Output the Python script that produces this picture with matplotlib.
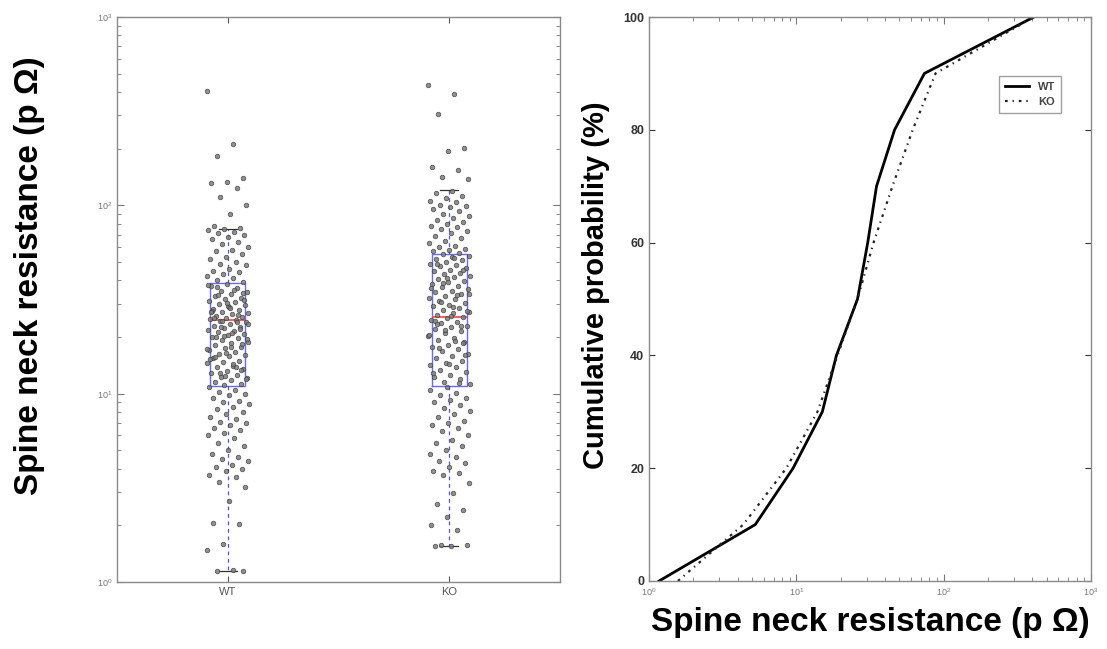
import numpy as np
import matplotlib.pyplot as plt

# resistance values (p Ohm)
wt_vals = [405, 212, 183, 140, 133, 131, 124, 111, 100, 90, 78, 76, 75, 74, 72, 71,
           70, 68, 66, 64, 62, 60, 58, 57, 55, 53, 52, 50, 49, 48, 46, 45, 44, 43,
           42, 41, 40, 39,
           38, 37.2, 36.5, 35.1, 34.6, 33.8, 33.1, 32.4, 31.9, 31.0, 30.6, 29.8, 29.5,
           28.9, 28.2, 27.9, 27.3, 26.8, 26.5, 26.0, 25.6, 25.1, 24.9, 24.6, 24.2, 23.9,
           23.5, 23.0, 22.7, 22.3, 21.8, 21.5, 21.2, 20.7, 20.4, 20.1, 19.7, 19.3, 18.9,
           18.6, 18.1, 17.8, 17.5, 17.0, 16.7, 16.3, 16.0, 15.8, 15.4, 15.0, 14.7, 14.5,
           14.1, 13.8, 13.5, 13.2, 12.9, 12.6, 12.3, 12.1, 11.8, 11.6, 11.3, 11.1,
           37.8, 35.6, 33.4, 31.5, 29.1, 27.6, 26.3, 24.4, 23.3, 21.0, 19.9, 18.3, 16.5,
           15.2, 13.9, 12.8, 11.9, 28.6, 25.3, 22.1, 20.2, 17.3, 14.3,
           36.8, 34.2, 30.2, 27.1, 24.0, 22.5, 19.5, 17.6, 15.6, 13.3, 12.4,
           10.8, 10.5, 10.2, 10.0, 9.8, 9.5, 9.2, 9.0, 8.8, 8.5, 8.3, 8.0, 7.8, 7.5,
           7.3, 7.1, 7.0, 6.8, 6.6, 6.4, 6.2, 6.0, 5.8, 5.5, 5.3, 5.0, 4.8, 4.6, 4.5,
           4.4, 4.2, 4.1, 4.0, 3.9, 3.7, 3.6, 3.4, 3.2, 2.7, 2.07, 2.03, 1.6, 1.48,
           1.16, 1.15, 1.14]

ko_vals = [436, 390, 305, 202, 194, 160, 154, 141, 138, 119, 117, 112, 109, 106, 104,
           101, 99, 98, 96, 93, 90, 88, 86, 84, 82, 80, 78, 77, 75, 73, 71, 69, 67,
           65, 63, 61, 60, 59, 58, 57, 56, 55.5,
           54, 53.1, 52.2, 51.0, 50.3, 49.1, 48.2, 47.5, 46.3, 45.6, 44.8, 43.9, 43.0,
           42.2, 41.5, 40.6, 39.8, 39.0, 38.1, 37.4, 36.7, 35.9, 35.2, 34.5, 33.8, 33.0,
           32.3, 31.7, 31.0, 30.4, 29.7, 29.1, 28.5, 27.9, 27.2, 26.7, 26.1, 25.6, 25.2,
           24.7, 24.1, 23.6, 23.0, 22.5, 22.0, 21.4, 20.9, 20.3, 19.8, 19.3, 18.8, 18.2,
           17.7, 17.2, 16.8, 16.3, 15.9, 15.4, 15.0, 14.6, 14.2, 13.8, 13.4, 13.0, 12.6,
           12.3, 11.9, 11.6, 11.2,
           52.7, 48.8, 45.1, 41.0, 36.2, 33.3, 30.7, 27.5, 25.9, 24.4, 22.8, 21.7, 20.6,
           19.0, 17.5, 16.0, 14.4, 12.9, 11.4, 38.5, 34.0, 28.8, 23.3, 18.5,
           10.9, 10.4, 10.1, 9.8, 9.5, 9.3, 9.0, 8.7, 8.4, 8.1, 7.8, 7.5, 7.2, 7.0,
           6.8, 6.6, 6.3, 6.0, 5.7, 5.5, 5.3, 5.0, 4.8, 4.6, 4.4, 4.3, 4.1, 3.9, 3.8,
           3.7, 3.36, 2.97, 2.6, 2.41, 2.21, 2.0, 1.9, 1.58, 1.57, 1.56, 1.55]

groups = ['WT', 'KO']
# box statistics
q1 = [11.0, 11.0]
med = [24.5, 25.5]
q3 = [38.7, 55.0]
whis_lo = [1.14, 1.55]
whis_hi = [75.0, 120.0]

# cumulative curves (deciles)
cum_pct = [0, 10, 20, 30, 40, 50, 60, 70, 80, 90, 100]
wt_cum = [1.17, 5.26, 9.5, 15.0, 18.7, 26.0, 30.5, 35.0, 46.4, 74.0, 409]
ko_cum = [1.57, 4.36, 8.55, 13.9, 19.0, 26.0, 33.4, 44.9, 61.6, 88.0, 409]

plt.rcParams['font.family'] = ['Liberation Sans', 'DejaVu Sans']

fig = plt.figure(figsize=(11.07, 6.49), dpi=100)
ax1 = fig.add_axes([0.1057, 0.1032, 0.4002, 0.8706])
ax2 = fig.add_axes([0.5863, 0.1048, 0.3993, 0.8690])

frame = '#8a8a8a'

# ---- left: box plot with jittered points
for i, vals in enumerate([wt_vals, ko_vals]):
    n = len(vals)
    offs = ((np.arange(n) * 0.6180339) % 1.0 - 0.5) * 0.19
    ax1.scatter(i + 1 + offs, vals, s=11, facecolor='#7c7c7c', edgecolor='#3a3a3a',
                linewidths=0.5, alpha=0.85, zorder=3)

stats = [dict(med=med[i], q1=q1[i], q3=q3[i], whislo=whis_lo[i], whishi=whis_hi[i],
              label=groups[i]) for i in range(2)]
ax1.bxp(stats, positions=[1, 2], widths=0.16, showfliers=False,
        boxprops=dict(color='#6a6aff', lw=1.0),
        medianprops=dict(color='#ff4040', lw=1.2),
        whiskerprops=dict(color='#5050ff', lw=0.9, ls=(0, (3, 3))),
        capprops=dict(color='#333333', lw=0.9), capwidths=0.08)

ax1.set_yscale('log')
ax1.set_ylim(1, 1000)
ax1.set_xlim(0.5, 2.5)
ax1.set_xticks([1, 2])
ax1.set_xticklabels(groups)
ax1.tick_params(axis='x', labelsize=8, colors='#555555', direction='in', top=True, length=4)
ax1.tick_params(axis='y', which='both', labelsize=6.5, colors='#777777', direction='in',
                right=True)
ax1.tick_params(axis='y', which='major', length=5)
ax1.tick_params(axis='y', which='minor', length=3)

# ---- right: cumulative probability
ax2.plot(wt_cum, cum_pct, color='black', lw=2.0, label='WT')
ax2.plot(ko_cum, cum_pct, color='#222222', lw=1.6, ls=(0, (1.2, 2.2, 0.6, 2.2)), label='KO')
ax2.set_xscale('log')
ax2.set_xlim(1, 1000)
ax2.set_ylim(0, 100)
ax2.set_yticks([0, 20, 40, 60, 80, 100])
ax2.tick_params(axis='y', labelsize=9, colors='#333333', direction='in', right=True, length=4)
for lab in ax2.get_yticklabels():
    lab.set_fontweight('bold')
ax2.tick_params(axis='x', which='both', labelsize=6.5, colors='#777777', direction='in',
                top=True)
ax2.tick_params(axis='x', which='major', length=5)
ax2.tick_params(axis='x', which='minor', length=3)
leg = ax2.legend(loc='upper right', bbox_to_anchor=(0.945, 0.905), fontsize=8,
                 frameon=True, fancybox=False, edgecolor='#888888', handlelength=2.2,
                 borderpad=0.5, labelspacing=0.5, handletextpad=0.8)
leg.get_frame().set_linewidth(1.0)
for t in leg.get_texts():
    t.set_fontweight('bold')
    t.set_color('#444444')

for ax in (ax1, ax2):
    for sp in ax.spines.values():
        sp.set_color(frame)
        sp.set_linewidth(1.0)

fig.text(30 / 1107, 1 - 276 / 649, 'Spine neck resistance (p Ω)', rotation=90,
         ha='center', va='center', fontsize=24, fontweight='bold')
fig.text(596 / 1107, 1 - 285 / 649, 'Cumulative probability (%)', rotation=90,
         ha='center', va='center', fontsize=21, fontweight='bold')
fig.text(870 / 1107, 1 - 622 / 649, 'Spine neck resistance (p Ω)',
         ha='center', va='center', fontsize=24, fontweight='bold')

fig.savefig('out.png', dpi=100)
